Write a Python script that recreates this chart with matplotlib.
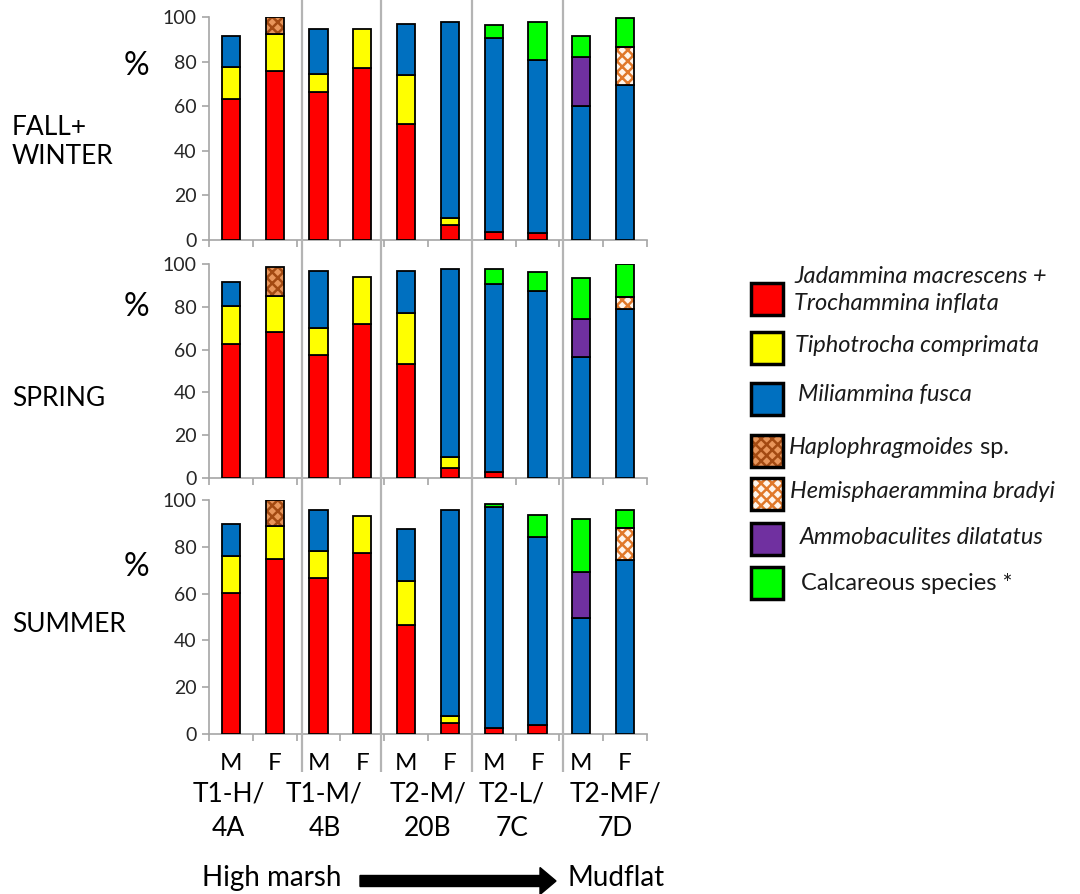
import numpy as np
import matplotlib
matplotlib.use('Agg')
import matplotlib.pyplot as plt
from matplotlib.patches import Rectangle, FancyArrow
from matplotlib import transforms

plt.rcParams['font.family'] = ['Lato', 'DejaVu Sans']
plt.rcParams['hatch.linewidth'] = 1.8

# categories
samples = ['M', 'F'] * 5
site_top = ['T1-H/', 'T1-M/', 'T2-M/', 'T2-L/', 'T2-MF/']
site_bottom = ['4A', '4B', '20B', '7C', '7D']
seasons = ['FALL+\nWINTER', 'SPRING', 'SUMMER']

species = ['Jadammina macrescens +\nTrochammina inflata', 'Tiphotrocha comprimata',
           'Miliammina fusca', 'Haplophragmoides', 'Hemisphaerammina bradyi',
           'Ammobaculites dilatatus', 'Calcareous species *']

# percentages, stacked bottom -> top
fall_jt = [63.3, 76.0, 66.5, 77.1, 52.1, 6.6, 3.7, 3.0, 0, 0]
fall_tc = [14.2, 16.2, 7.8, 17.5, 22.0, 3.1, 0, 0, 0, 0]
fall_mf = [13.8, 0, 20.3, 0, 22.9, 87.9, 86.9, 77.8, 59.9, 69.5]
fall_hap = [0, 7.8, 0, 0, 0, 0, 0, 0, 0, 0]
fall_hem = [0, 0, 0, 0, 0, 0, 0, 0, 0, 17.0]
fall_amm = [0, 0, 0, 0, 0, 0, 0, 0, 22.1, 0]
fall_cal = [0, 0, 0, 0, 0, 0, 5.8, 16.8, 9.3, 13.1]

spring_jt = [62.7, 68.0, 57.4, 71.9, 53.2, 4.7, 2.8, 0, 0, 0]
spring_tc = [17.8, 16.9, 12.5, 21.9, 24.0, 5.0, 0, 0, 0, 0]
spring_mf = [11.1, 0, 26.8, 0, 19.5, 88.1, 88.0, 87.5, 56.6, 78.8]
spring_hap = [0, 13.5, 0, 0, 0, 0, 0, 0, 0, 0]
spring_hem = [0, 0, 0, 0, 0, 0, 0, 0, 0, 5.9]
spring_amm = [0, 0, 0, 0, 0, 0, 0, 0, 17.7, 0]
spring_cal = [0, 0, 0, 0, 0, 0, 6.7, 8.8, 19.1, 15.3]

summer_jt = [60.3, 74.9, 66.7, 77.3, 46.4, 4.7, 2.7, 4.0, 0, 0]
summer_tc = [15.9, 13.8, 11.7, 15.9, 19.0, 2.8, 0, 0, 0, 0]
summer_mf = [13.6, 0, 17.3, 0, 22.3, 88.4, 94.2, 80.0, 49.4, 74.5]
summer_hap = [0, 11.3, 0, 0, 0, 0, 0, 0, 0, 0]
summer_hem = [0, 0, 0, 0, 0, 0, 0, 0, 0, 13.7]
summer_amm = [0, 0, 0, 0, 0, 0, 0, 0, 20.0, 0]
summer_cal = [0, 0, 0, 0, 0, 0, 1.4, 9.5, 22.4, 7.5]

# (facecolor, hatch, hatch colour)
styles = [('#FF0000', None, None), ('#FFFF00', None, None), ('#0070C0', None, None),
          ('#E8955A', 'xxx', '#A34A12'), ('#FFF4EA', 'xxx', '#E0782A'),
          ('#7030A0', None, None), ('#00FF00', None, None)]

W, H = 1080, 894
fig = plt.figure(figsize=(W / 100, H / 100), dpi=100)

def fx(px):
    return px / W

def fy(py):
    return 1 - py / H

# panel boxes in pixels: (top of 100, bottom at 0)
panel_px = [(17, 240), (264, 478), (500, 734)]
left_px, right_px = 209, 647
pct_y = [66, 307, 567]
season_y = [142, 398, 624]
grey = '#A6A6A6'

x = np.arange(len(samples))
axes = []
for top, bot in panel_px:
    ax = fig.add_axes([fx(left_px), fy(bot), fx(right_px - left_px), (bot - top) / H])
    ax.set_xlim(-0.5, 9.5)
    ax.set_ylim(0, 100)
    ax.set_yticks(range(0, 101, 20))
    for s in ['top', 'right']:
        ax.spines[s].set_visible(False)
    for s in ['left', 'bottom']:
        ax.spines[s].set_color(grey)
        ax.spines[s].set_linewidth(1.2)
    ax.tick_params(axis='y', colors=grey, labelcolor='#262626', labelsize=14, length=5,
                   width=1.2, pad=4)
    ax.set_xticks(np.arange(-0.5, 10, 1), minor=True)
    ax.tick_params(axis='x', which='minor', colors=grey, length=5, width=1.2)
    ax.set_xticks(x)
    ax.tick_params(axis='x', which='major', length=0, labelbottom=False)
    axes.append(ax)

panels = [
    [fall_jt, fall_tc, fall_mf, fall_hap, fall_hem, fall_amm, fall_cal],
    [spring_jt, spring_tc, spring_mf, spring_hap, spring_hem, spring_amm, spring_cal],
    [summer_jt, summer_tc, summer_mf, summer_hap, summer_hem, summer_amm, summer_cal],
]

bw = 0.42
for ax, layers in zip(axes, panels):
    bottom = np.zeros(len(x))
    for vals, (fc, hatch, hc) in zip(layers, styles):
        vals = np.array(vals, dtype=float)
        m = vals > 0
        if hatch:
            ax.bar(x[m], vals[m], bw, bottom=bottom[m], color=fc, hatch=hatch,
                   edgecolor=hc, linewidth=0, zorder=3)
            ax.bar(x[m], vals[m], bw, bottom=bottom[m], fill=False,
                   edgecolor='black', linewidth=1.3, zorder=4)
        else:
            ax.bar(x[m], vals[m], bw, bottom=bottom[m], color=fc,
                   edgecolor='black', linewidth=1.3, zorder=3)
        bottom += vals

# sample labels + site labels under the bottom panel
axb = axes[-1]
axb.set_xticklabels(samples)
axb.tick_params(axis='x', which='major', labelbottom=True, labelsize=17.5, pad=14,
                labelcolor='black')
# the site labels sit a little off the group centres in the original
site_dx = [-24, -16, 0, -4, 12]
tr = transforms.blended_transform_factory(axb.transData, fig.transFigure)
for i, (a, b) in enumerate(zip(site_top, site_bottom)):
    xc = 2 * i + 0.5 + site_dx[i] / 43.8
    fig.text(xc, fy(794), a, transform=tr, ha='center', va='center', fontsize=19)
    fig.text(xc, fy(828), b, transform=tr, ha='center', va='center', fontsize=19)

# vertical separators through all panels
sep_x = [1.62, 3.43, 5.5, 7.58]
sep_ax = fig.add_axes([fx(left_px), fy(772), fx(right_px - left_px), 772 / H])
sep_ax.set_xlim(-0.5, 9.5)
sep_ax.set_ylim(0, 1)
sep_ax.axis('off')
sep_ax.patch.set_alpha(0)
for sx in sep_x:
    sep_ax.axvline(sx, color='#B4B4B4', linewidth=1.6)

# row labels
for s, py, pp in zip(seasons, season_y, pct_y):
    fig.text(fx(12), fy(py), s, ha='left', va='center', fontsize=19, linespacing=1.2)
    fig.text(fx(149), fy(pp), '%', ha='right', va='center', fontsize=23)

# gradient arrow
fig.text(fx(341), fy(878), 'High marsh', ha='right', va='center', fontsize=20)
fig.text(fx(567), fy(878), 'Mudflat', ha='left', va='center', fontsize=20)
fig.add_artist(FancyArrow(fx(360), fy(881), fx(180), 0, width=11 / H, head_width=27 / H,
                          head_length=fx(16), length_includes_head=False,
                          color='black', transform=fig.transFigure))

# legend
box_top = [283, 332, 383, 435, 478, 523, 567]
text_x = [794, 795, 798, 789, 790, 800, 801]
text_y = [290, 345, 395, 448, 492, 537, 583]
for i, (lab, (fc, hatch, hc)) in enumerate(zip(species, styles)):
    y0 = fy(box_top[i] + 32)
    if hatch:
        fig.add_artist(Rectangle((fx(751), y0), fx(32), 32 / H, facecolor=fc, hatch=hatch,
                                 edgecolor=hc, linewidth=0, transform=fig.transFigure))
        fig.add_artist(Rectangle((fx(751), y0), fx(32), 32 / H, fill=False,
                                 edgecolor='black', linewidth=2.5, transform=fig.transFigure))
    else:
        fig.add_artist(Rectangle((fx(751), y0), fx(32), 32 / H, facecolor=fc,
                                 edgecolor='black', linewidth=2.5, transform=fig.transFigure))
    style = 'normal' if lab.startswith('Calcareous') else 'italic'
    t = fig.text(fx(text_x[i]), fy(text_y[i]), lab, ha='left', va='center', fontsize=17,
                 style=style, linespacing=1.3, color='#1a1a1a')
    if lab == 'Haplophragmoides':
        axb.annotate(' sp.', xy=(1, 0), xycoords=t, ha='left', va='bottom', fontsize=17,
                     color='#1a1a1a', annotation_clip=False)

fig.savefig('out.png', dpi=100)
